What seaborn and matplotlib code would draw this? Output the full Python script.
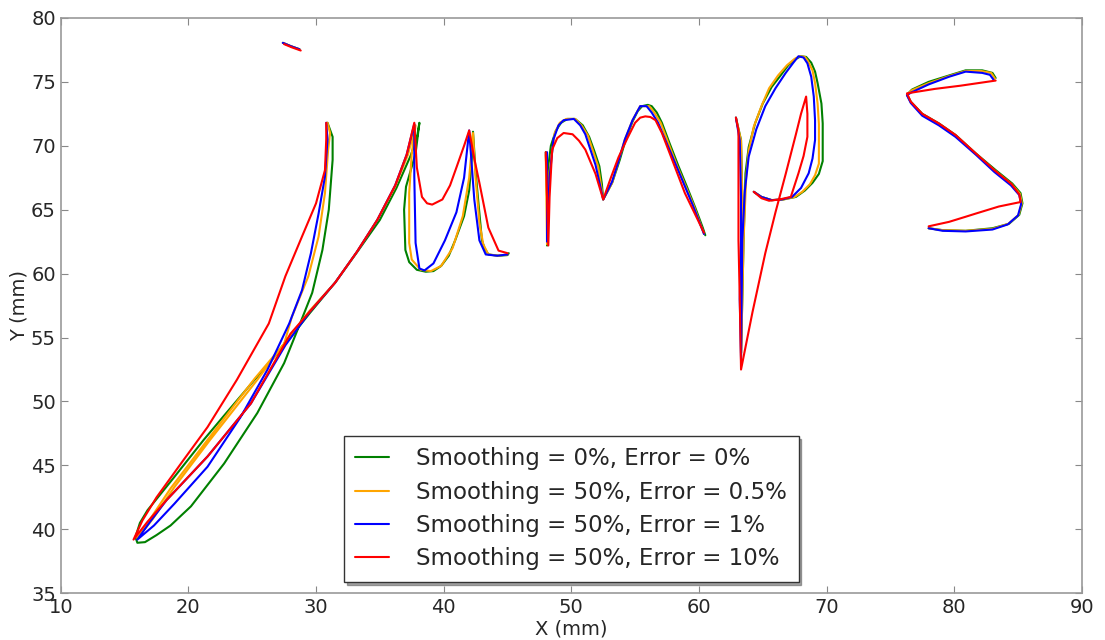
"""
Trazos de la palabra "jumps" con distintos niveles de suavizado y error.
"""

import pandas as pd
import matplotlib
matplotlib.use("Agg")
import matplotlib.pyplot as plt
import seaborn as sns

# Etiquetas y colores de cada serie
labels = ['Smoothing = 0%, Error = 0%',
          'Smoothing = 50%, Error = 0.5%',
          'Smoothing = 50%, Error = 1%',
          'Smoothing = 50%, Error = 10%']
colors = ['#008000', '#FFA500', '#0000FF', '#FF0000']

# Punto de la j
green_dot = [(27.4, 78.05), (28.0, 77.8), (28.7, 77.55)]
orange_dot = [(27.4, 78.05), (28.0, 77.8), (28.7, 77.55)]
blue_dot = [(27.4, 78.05), (28.0, 77.8), (28.7, 77.55)]
red_dot = [(27.5, 77.95), (28.1, 77.7), (28.8, 77.45)]

# j + u
green_ju = [(30.9, 71.8), (31.3, 70.7), (31.3, 68.9), (31.0, 65.0), (30.5, 61.85), (29.7, 58.5),
            (28.65, 55.85), (27.5, 53.0), (25.4, 49.1), (22.8, 45.15), (20.2, 41.8), (18.6, 40.3),
            (17.5, 39.55), (16.6, 39.0), (16.0, 38.95), (15.85, 39.4), (16.2, 40.5), (16.8, 41.5),
            (18.9, 44.1), (21.2, 47.0), (22.8, 48.9), (25.1, 51.6), (27.35, 54.2), (29.5, 56.9),
            (31.5, 59.3), (33.3, 61.8), (35.0, 64.2), (36.3, 66.7), (37.4, 69.2), (37.9, 70.6),
            (38.1, 71.8), (37.8, 69.4), (37.05, 66.8), (36.9, 65.0), (37.0, 61.85), (37.3, 60.9),
            (37.9, 60.3), (38.6, 60.15), (39.2, 60.2), (39.8, 60.6), (40.4, 61.4), (40.9, 62.6),
            (41.6, 64.5), (42.0, 66.5), (42.2, 69.0), (42.3, 71.1), (42.5, 68.0), (42.7, 65.8),
            (43.0, 62.6), (43.2, 62.0), (43.5, 61.5), (44.3, 61.4), (45.0, 61.45), (45.1, 61.6)]
orange_ju = [(30.9, 71.8), (31.1, 71.0), (30.95, 69.7), (30.7, 66.3), (30.2, 62.9), (29.4, 59.8),
             (28.1, 56.6), (27.5, 54.5), (25.4, 51.7), (21.7, 47.0), (18.9, 43.3), (17.2, 40.8),
             (16.0, 39.3), (16.6, 40.2), (18.6, 43.2), (21.5, 47.0), (25.2, 51.8), (27.4, 54.4),
             (29.5, 57.1), (31.5, 59.3), (33.2, 61.7), (34.8, 64.2), (36.2, 66.8), (37.2, 69.3),
             (37.8, 71.6), (37.5, 69.4), (37.3, 66.3), (37.3, 62.4), (37.5, 61.1), (38.2, 60.3),
             (39.0, 60.2), (39.8, 60.6), (40.7, 62.0), (41.5, 64.5), (42.0, 67.5), (42.3, 71.0),
             (42.5, 67.5), (42.8, 64.0), (43.1, 62.3), (43.5, 61.5), (44.3, 61.4), (45.0, 61.5)]
blue_ju = [(30.8, 71.8), (30.9, 70.5), (30.7, 67.6), (30.2, 64.7), (29.6, 61.6), (28.9, 58.7),
           (27.9, 56.1), (26.2, 52.5), (24.1, 48.8), (21.5, 44.9), (18.9, 42.0), (17.3, 40.3),
           (16.0, 39.2), (17.0, 40.6), (18.3, 42.3), (21.5, 45.7), (24.9, 49.85), (27.6, 54.4),
           (29.5, 57.0), (31.5, 59.3), (33.2, 61.7), (34.8, 64.2), (36.2, 66.9), (37.1, 69.3),
           (37.7, 71.7), (37.7, 67.6), (37.8, 62.4), (38.1, 60.4), (38.5, 60.25), (39.2, 60.8),
           (40.1, 62.6), (41.0, 64.8), (41.6, 67.5), (42.0, 71.2), (42.2, 68.5), (42.4, 65.8),
           (42.8, 62.6), (43.3, 61.5), (44.2, 61.4), (45.0, 61.5)]
red_ju = [(30.8, 71.8), (30.8, 70.5), (30.7, 68.1), (30.0, 65.5), (28.9, 62.9), (27.6, 59.8),
          (26.3, 56.1), (23.8, 51.7), (21.5, 48.0), (19.6, 45.4), (17.5, 42.5), (16.4, 40.7),
          (15.7, 39.2), (16.8, 40.6), (18.3, 42.3), (21.5, 45.7), (24.9, 49.85), (28.0, 55.3),
          (31.5, 59.3), (33.2, 61.7), (34.8, 64.2), (36.2, 66.9), (37.1, 69.3), (37.7, 71.8),
          (37.9, 68.3), (38.3, 66.0), (38.7, 65.5), (39.1, 65.4), (39.9, 65.8), (40.5, 66.9),
          (41.0, 68.3), (41.6, 70.0), (42.0, 71.2), (42.4, 69.0), (42.8, 67.1), (43.5, 63.6),
          (44.3, 61.8), (45.0, 61.6)]

# m
green_m = [(48.0, 69.5), (48.1, 66.0), (48.1, 62.2), (48.2, 65.0), (48.2, 68.4), (48.4, 70.0),
           (48.8, 71.2), (49.2, 71.8), (49.7, 72.1), (50.3, 72.1), (50.9, 71.6), (51.4, 70.7),
           (51.8, 69.6), (52.2, 68.4), (52.4, 67.0), (52.5, 65.8), (53.2, 67.1), (53.8, 68.9),
           (54.25, 70.45), (54.8, 71.9), (55.2, 72.7), (55.55, 73.1), (56.0, 73.2), (56.3, 73.1),
           (56.7, 72.6), (57.1, 71.8), (57.7, 70.2), (58.4, 68.4), (59.1, 66.7), (59.7, 65.2),
           (60.3, 63.6), (60.5, 63.0)]
orange_m = [(48.0, 69.3), (48.1, 62.3), (48.3, 68.0), (48.7, 71.0), (49.1, 71.8), (49.6, 72.1),
            (50.3, 72.1), (50.8, 71.6), (51.3, 70.8), (52.1, 68.4), (52.5, 65.8), (53.2, 67.1),
            (53.7, 68.8), (54.2, 70.5), (54.8, 72.0), (55.4, 73.1), (56.1, 73.1), (56.5, 72.6),
            (57.0, 71.8), (58.3, 68.4), (59.6, 65.3), (60.4, 63.1)]
blue_m = [(48.1, 69.5), (48.1, 62.5), (48.3, 67.5), (48.6, 70.5), (49.0, 71.6), (49.4, 72.0),
          (50.2, 72.1), (50.7, 71.6), (51.1, 70.9), (51.9, 68.5), (52.5, 65.8), (53.2, 67.2),
          (53.7, 68.8), (54.2, 70.5), (54.8, 72.0), (55.4, 73.1), (55.9, 73.1), (56.3, 72.6),
          (56.8, 71.8), (58.2, 68.5), (59.5, 65.4), (60.4, 63.1)]
red_m = [(48.0, 69.5), (48.1, 66.0), (48.2, 62.2), (48.3, 66.0), (48.5, 69.7), (48.9, 70.6),
         (49.4, 71.0), (50.1, 70.9), (50.6, 70.4), (51.1, 69.7), (51.9, 67.8), (52.5, 65.8),
         (53.1, 67.5), (53.7, 69.1), (54.4, 70.6), (55.0, 71.8), (55.4, 72.2), (55.8, 72.3),
         (56.2, 72.25), (56.6, 72.0), (57.1, 71.0), (57.6, 69.7), (58.9, 66.3), (60.4, 63.2)]

# p
green_p = [(62.9, 72.2), (63.3, 70.45), (63.4, 66.0), (63.4, 62.6), (63.3, 58.0), (63.3, 53.8),
           (63.4, 58.0), (63.5, 62.6), (63.65, 67.85), (63.9, 69.9), (64.4, 71.75), (65.0, 73.3),
           (65.7, 74.6), (66.4, 75.5), (67.0, 76.3), (67.6, 76.8), (68.0, 77.0), (68.4, 76.95),
           (68.8, 76.5), (69.1, 75.8), (69.3, 74.9), (69.6, 73.3), (69.7, 71.75), (69.7, 68.8),
           (69.4, 67.8), (68.9, 67.1), (68.3, 66.5), (67.6, 66.0), (66.6, 65.8), (65.7, 65.75),
           (64.9, 66.0), (64.3, 66.4)]
orange_p = [(62.9, 72.2), (63.3, 70.4), (63.4, 66.0), (63.4, 62.6), (63.3, 58.0), (63.3, 53.5),
            (63.4, 58.0), (63.5, 62.6), (63.7, 67.5), (63.9, 69.6), (64.3, 71.5), (64.9, 73.1),
            (65.5, 74.5), (66.2, 75.5), (66.9, 76.3), (67.5, 76.8), (67.9, 77.0), (68.3, 76.95),
            (68.5, 76.7), (68.9, 75.9), (69.1, 74.9), (69.3, 73.3), (69.4, 71.7), (69.4, 68.6),
            (69.1, 67.7), (68.7, 67.0), (68.1, 66.4), (67.5, 66.0), (66.6, 65.8), (65.7, 65.75),
            (64.9, 66.0), (64.3, 66.4)]
blue_p = [(62.9, 72.2), (63.2, 70.4), (63.3, 66.0), (63.3, 62.6), (63.2, 58.0), (63.3, 53.3),
          (63.35, 58.0), (63.4, 62.6), (63.6, 66.5), (63.9, 69.15), (64.5, 71.3), (65.2, 73.1),
          (66.0, 74.5), (66.8, 75.7), (67.4, 76.5), (67.8, 77.0), (68.2, 76.9), (68.5, 76.45),
          (68.8, 75.4), (69.0, 73.85), (69.1, 72.0), (69.1, 70.45), (68.9, 69.0), (68.6, 67.85),
          (68.0, 66.7), (67.3, 66.0), (66.5, 65.8), (65.7, 65.75), (64.9, 66.0), (64.3, 66.4)]
red_p = [(62.9, 72.2), (63.1, 71.2), (63.1, 66.0), (63.1, 62.6), (63.2, 58.0), (63.3, 52.5),
         (64.2, 57.0), (65.2, 61.6), (66.0, 64.8), (66.8, 67.8), (67.6, 70.9), (68.0, 72.5),
         (68.4, 73.85), (68.5, 72.5), (68.5, 70.7), (68.2, 69.2), (67.8, 67.85), (67.2, 66.0),
         (66.3, 65.8), (65.5, 65.7), (64.9, 65.9), (64.3, 66.4)]

# s
green_s = [(83.25, 75.3), (83.0, 75.7), (82.2, 75.9), (80.9, 75.9), (79.6, 75.5), (78.0, 75.0),
           (76.7, 74.4), (76.3, 74.0), (76.6, 73.45), (77.5, 72.5), (78.8, 71.75), (80.1, 70.85),
           (81.7, 69.4), (83.25, 68.1), (84.55, 67.05), (85.2, 66.3), (85.35, 65.5), (85.1, 64.6),
           (84.3, 63.9), (83.0, 63.55), (80.9, 63.35), (79.1, 63.4), (78.0, 63.55)]
orange_s = [(83.2, 75.25), (82.9, 75.7), (82.1, 75.85), (80.9, 75.85), (79.6, 75.45), (78.0, 74.9),
            (76.7, 74.35), (76.3, 74.0), (76.6, 73.4), (77.5, 72.45), (78.8, 71.7), (80.1, 70.8),
            (81.7, 69.35), (83.2, 68.05), (84.5, 67.0), (85.15, 66.25), (85.3, 65.5), (85.05, 64.6),
            (84.25, 63.9), (83.0, 63.5), (80.9, 63.35), (79.1, 63.4), (78.0, 63.55)]
blue_s = [(83.1, 75.15), (82.8, 75.55), (82.2, 75.7), (80.9, 75.8), (79.6, 75.4), (78.0, 74.8),
          (76.6, 74.15), (76.3, 73.95), (76.6, 73.35), (77.5, 72.35), (78.8, 71.6), (80.1, 70.7),
          (81.7, 69.3), (83.15, 67.95), (84.45, 66.9), (85.1, 66.15), (85.25, 65.45), (85.0, 64.55),
          (84.2, 63.85), (83.0, 63.45), (80.9, 63.3), (79.1, 63.35), (78.0, 63.55)]
red_s = [(83.25, 75.1), (80.5, 74.7), (78.5, 74.45), (76.3, 74.1), (76.6, 73.45), (77.5, 72.5),
         (78.8, 71.75), (80.1, 70.85), (81.7, 69.4), (83.2, 68.05), (84.5, 67.0), (85.1, 66.2),
         (85.2, 65.6), (83.5, 65.25), (81.7, 64.7), (80.9, 64.45), (79.6, 64.05), (78.0, 63.7)]

strokes = {
    labels[0]: [green_dot, green_ju, green_m, green_p, green_s],
    labels[1]: [orange_dot, orange_ju, orange_m, orange_p, orange_s],
    labels[2]: [blue_dot, blue_ju, blue_m, blue_p, blue_s],
    labels[3]: [red_dot, red_ju, red_m, red_p, red_s],
}

# Tabla larga para seaborn
rows = []
for serie, trazos in strokes.items():
    for i, trazo in enumerate(trazos):
        for orden, (x, y) in enumerate(trazo):
            rows.append({'serie': serie, 'trazo': i, 'orden': orden, 'x': x, 'y': y})
df = pd.DataFrame(rows)

sns.set_style('white')
plt.rcParams['font.family'] = ['DejaVu Sans']

fig, ax = plt.subplots(figsize=(11.05, 6.4), dpi=100)
fig.subplots_adjust(left=0.055, right=0.979, top=0.972, bottom=0.073)

sns.lineplot(data=df, x='x', y='y', hue='serie', hue_order=labels,
             palette=colors, units='trazo', estimator=None, sort=False,
             linewidth=1.5, ax=ax)

ax.set_xlim(10, 90)
ax.set_ylim(35, 80)
ax.set_xticks(range(10, 91, 10))
ax.set_yticks(range(35, 81, 5))
ax.set_xlabel('X (mm)', fontsize=14, labelpad=2)
ax.set_ylabel('Y (mm)', fontsize=14, labelpad=2)
ax.tick_params(direction='in', length=5, width=0.8, labelsize=14,
               top=True, right=True, bottom=True, left=True, color='#888888')
for sp in ax.spines.values():
    sp.set_color('#999999')
    sp.set_linewidth(1.2)

old = ax.get_legend()
handles = old.legend_handles
texts = [t.get_text() for t in old.texts]
old.remove()
leg = ax.legend(handles, texts, loc='lower center', bbox_to_anchor=(0.5, 0.0),
                fontsize=16.5, shadow=True, fancybox=False, framealpha=1,
                edgecolor='#333333', handlelength=1.45, handletextpad=1.2,
                borderpad=0.5, labelspacing=0.45)
leg.get_frame().set_linewidth(1.0)

plt.savefig('out.png', dpi=100)
plt.close()
